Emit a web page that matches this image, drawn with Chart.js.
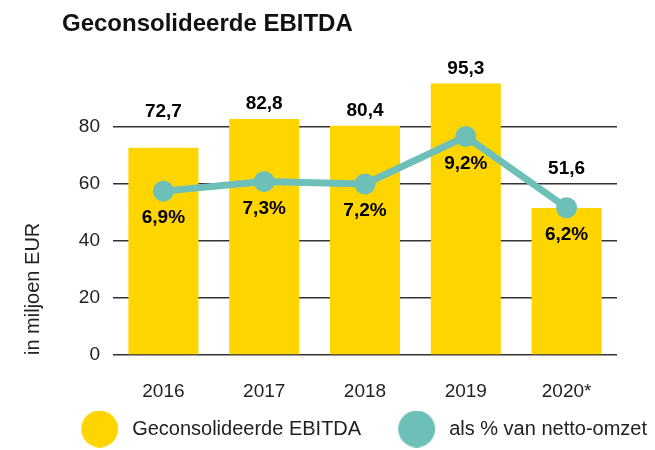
<!DOCTYPE html>
<html>
<head>
<meta charset="utf-8">
<script src="https://cdn.jsdelivr.net/npm/chart.js@4/dist/chart.umd.min.js"></script>
<style>
  body { margin: 0; background: #fff; }
  #wrap { position: relative; width: 655px; height: 450px; }
  #title {
    position: absolute; left: 62px; top: 11px;
    font: bold 24px "Liberation Sans", Arial, sans-serif;
    line-height: 24px; color: #111; white-space: nowrap;
  }
</style>
</head>
<body>
<div id="wrap">
  <div id="title">Geconsolideerde EBITDA</div>
  <canvas id="chart" width="655" height="450"></canvas>
</div>
<script>
// chart data
const years = ['2016', '2017', '2018', '2019', '2020*'];
const ebitda = [72.7, 82.8, 80.4, 95.3, 51.6];        // in miljoen EUR
const marginPct = [6.9, 7.3, 7.2, 9.2, 6.2];          // als % van netto-omzet
const seriesNames = ['Geconsolideerde EBITDA', 'als % van netto-omzet'];

const YELLOW = '#FFD500';
const TEAL = '#6DC0B8';
const LAST_TICK = 80; // highest tick that gets a label / gridline

Chart.defaults.font.family = '"Liberation Sans", Arial, sans-serif';
Chart.defaults.color = '#222';

// comma as decimal separator
const nl = v => v.toFixed(1).replace('.', ',');

// big legend dots, drawn on a small canvas so they can be larger than the font
const makeDot = function(color) {
    const c = document.createElement('canvas');
    c.width = 70;
    c.height = 37;
    const g = c.getContext('2d');
    g.fillStyle = color;
    g.beginPath();
    g.arc(47.5, 18.5, 18.5, 0, Math.PI * 2);
    g.fill();
    return c;
};
const legendDots = [makeDot(YELLOW), makeDot(TEAL)];

// value labels above the bars and below the line points
const valueLabels = {
    id: 'valueLabels',
    afterDatasetsDraw(chart) {
        const ctx = chart.ctx;
        const yScale = chart.scales.y;
        ctx.save();
        ctx.font = 'bold 19px "Liberation Sans", Arial, sans-serif';
        ctx.fillStyle = '#000';
        ctx.textAlign = 'center';
        ctx.textBaseline = 'middle';

        chart.getDatasetMeta(0).data.forEach((bar, i) => {
            const v = ebitda[i];
            // keep the label clear of the gridline just above a short bar
            const gridAbove = Math.ceil(v / 20) * 20;
            const anchor = gridAbove <= LAST_TICK ? yScale.getPixelForValue(gridAbove) : bar.y;
            ctx.fillText(nl(v), bar.x, anchor - 15);
        });

        chart.getDatasetMeta(1).data.forEach((pt, i) => {
            ctx.fillText(nl(marginPct[i]) + '%', pt.x, pt.y + 27);
        });
        ctx.restore();
    }
};

const chart = new Chart(document.getElementById('chart'), {
    type: 'bar',
    data: {
        labels: years,
        datasets: [{
            type: 'bar',
            label: seriesNames[0],
            data: ebitda,
            backgroundColor: YELLOW,
            barPercentage: 0.695,
            categoryPercentage: 1,
            yAxisID: 'y',
            order: 2,
        }, {
            type: 'line',
            label: seriesNames[1],
            data: marginPct,
            borderColor: TEAL,
            backgroundColor: TEAL,
            borderWidth: 7,
            pointRadius: 10.5,
            pointBorderWidth: 0,
            pointBackgroundColor: TEAL,
            tension: 0,
            yAxisID: 'y1',
            order: 1,
        }]
    },
    options: {
        responsive: false,
        animation: false,
        devicePixelRatio: 1,
        layout: {
            padding: { top: 70, left: 21, right: 0, bottom: 1 }
        },
        plugins: {
            title: { display: false },
            tooltip: { enabled: false },
            legend: {
                position: 'bottom',
                align: 'end',
                labels: {
                    usePointStyle: true,
                    pointStyleWidth: 70,
                    padding: 8,
                    color: '#222',
                    font: { size: 20 },
                    generateLabels(chart) {
                        const items = Chart.defaults.plugins.legend.labels.generateLabels(chart);
                        items.forEach(item => { item.pointStyle = legendDots[item.datasetIndex]; });
                        return items;
                    },
                    // bars first, line second (not by draw order)
                    sort: (a, b) => a.datasetIndex - b.datasetIndex
                }
            }
        },
        scales: {
            x: {
                grid: { display: false },
                border: { display: false },
                ticks: { padding: 17, color: '#222', font: { size: 19 } },
                afterFit(scale) { scale.height = 56; }
            },
            y: {
                position: 'left',
                min: 0,
                max: 100,
                ticks: {
                    stepSize: 20,
                    padding: 13,
                    color: '#222',
                    font: { size: 19 },
                    callback: v => (v > LAST_TICK ? '' : v)
                },
                grid: {
                    drawTicks: false,
                    lineWidth: 1.5,
                    color: c => (c.tick && c.tick.value > LAST_TICK ? 'rgba(0,0,0,0)' : '#333')
                },
                border: { display: false },
                title: {
                    display: true,
                    text: 'in miljoen EUR',
                    align: 'start',
                    color: '#222',
                    padding: { top: 0, bottom: 0 },
                    font: { size: 20 }
                },
                afterFit(scale) { scale.width = 92; }
            },
            y1: {
                position: 'right',
                min: 0,
                max: 12,
                grid: { display: false },
                border: { display: false },
                ticks: { display: false },
                afterFit(scale) { scale.width = 38; }
            }
        }
    },
    plugins: [valueLabels]
});
</script>
</body>
</html>
